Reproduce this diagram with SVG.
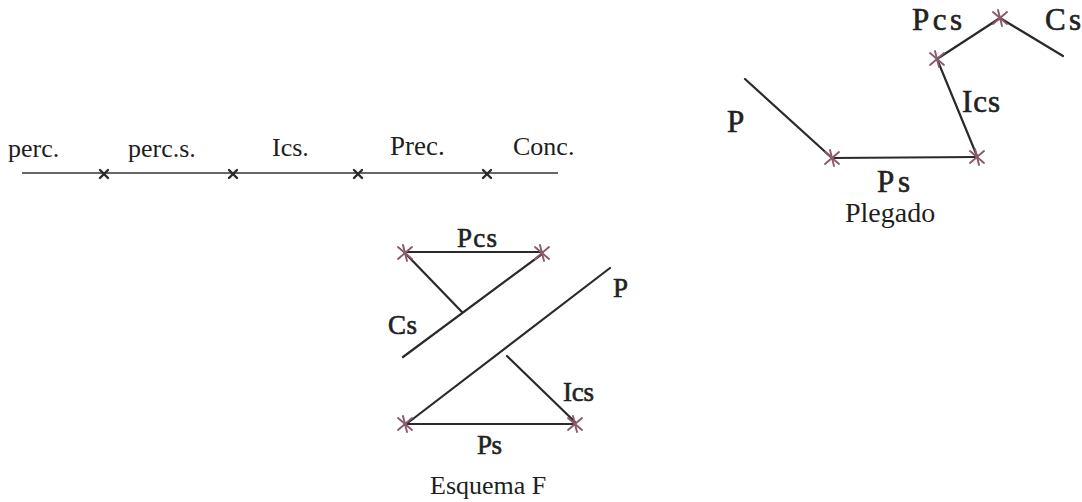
<svg xmlns="http://www.w3.org/2000/svg" width="1082" height="502" viewBox="0 0 1082 502">
<style>
.bg{fill:#ffffff}
.ln{stroke:#2a2a2a;stroke-width:2.2;stroke-linecap:round;fill:none}
.tl{stroke:#333;stroke-width:1.6;fill:none}
.xm{stroke:#2a2a2a;stroke-width:2.4;stroke-linecap:round}
.cr{stroke:#8a5a6e;stroke-width:1.9;stroke-linecap:round}
.lb{font-family:"Liberation Serif","Times New Roman",serif;fill:#1e1e1e}
.hd{font-family:"Liberation Serif","Times New Roman",serif;fill:#222;stroke:#222;stroke-width:0.6}
</style>
<defs>
<g id="cross"><line class="cr" x1="-7" y1="-6" x2="7" y2="6"/><line class="cr" x1="-7" y1="6" x2="7" y2="-6"/><line class="cr" x1="-2" y1="-8" x2="2" y2="8"/></g>
<g id="xmark"><line class="xm" x1="-4" y1="-4" x2="4" y2="4"/><line class="xm" x1="-4" y1="4" x2="4" y2="-4"/></g>
</defs>
<rect class="bg" x="0" y="0" width="1082" height="502"/>

<g id="connectors">
  <line class="tl" x1="22" y1="173" x2="558" y2="173"/>
  <line class="ln" x1="745" y1="79" x2="832" y2="158"/>
  <line class="ln" x1="832" y1="158" x2="977" y2="157"/>
  <line class="ln" x1="977" y1="156" x2="937" y2="59"/>
  <line class="ln" x1="937" y1="59" x2="1000" y2="18"/>
  <line class="ln" x1="1000" y1="18" x2="1063" y2="56"/>
  <line class="ln" x1="405" y1="252" x2="542" y2="252"/>
  <line class="ln" x1="405" y1="253" x2="462" y2="312"/>
  <line class="ln" x1="542" y1="254" x2="403" y2="357"/>
  <line class="ln" x1="610" y1="268" x2="405" y2="425"/>
  <line class="ln" x1="507" y1="356" x2="575" y2="422"/>
  <line class="ln" x1="405" y1="424" x2="575" y2="424"/>
</g>

<g id="timeline-marks">
  <use href="#xmark" x="104" y="174"/>
  <use href="#xmark" x="233" y="174"/>
  <use href="#xmark" x="358" y="174"/>
  <use href="#xmark" x="487" y="174"/>
</g>
<g id="node-perc"><text class="lb" x="8" y="157" font-size="26">perc.</text></g>
<g id="node-percs"><text class="lb" x="128" y="157" font-size="26">perc.s.</text></g>
<g id="node-ics-t"><text class="lb" x="272" y="156" font-size="26">Ics.</text></g>
<g id="node-prec"><text class="lb" x="390" y="155" font-size="27">Prec.</text></g>
<g id="node-conc"><text class="lb" x="513" y="155" font-size="26">Conc.</text></g>

<g id="plegado-marks">
  <use href="#cross" x="832" y="158"/>
  <use href="#cross" x="977" y="157"/>
  <use href="#cross" x="937" y="59"/>
  <use href="#cross" x="1000" y="18"/>
</g>
<g id="node-p-pl"><text class="hd" x="727" y="132" font-size="31" textLength="18">P</text></g>
<g id="node-ps-pl"><text class="hd" x="877" y="192" font-size="31" textLength="33">Ps</text></g>
<g id="node-ics-pl"><text class="hd" x="962" y="112" font-size="31" textLength="38">Ics</text></g>
<g id="node-pcs-pl"><text class="hd" x="912" y="30" font-size="31" textLength="50">Pcs</text></g>
<g id="node-cs-pl"><text class="hd" x="1045" y="30" font-size="31" textLength="36">Cs</text></g>
<g id="node-plegado"><text class="lb" x="845" y="222" font-size="28">Plegado</text></g>

<g id="esquema-marks">
  <use href="#cross" x="405" y="253"/>
  <use href="#cross" x="542" y="253"/>
  <use href="#cross" x="405" y="424"/>
  <use href="#cross" x="575" y="424"/>
</g>
<g id="node-pcs-f"><text class="hd" x="457" y="247" font-size="27" textLength="40">Pcs</text></g>
<g id="node-p-f"><text class="hd" x="613" y="297" font-size="27" textLength="15">P</text></g>
<g id="node-cs-f"><text class="hd" x="388" y="334" font-size="27" textLength="29">Cs</text></g>
<g id="node-ics-f"><text class="hd" x="563" y="401" font-size="27" textLength="31">Ics</text></g>
<g id="node-ps-f"><text class="hd" x="477" y="454" font-size="27" textLength="25">Ps</text></g>
<g id="node-esquema"><text class="lb" x="430" y="494" font-size="26">Esquema F</text></g>
</svg>
